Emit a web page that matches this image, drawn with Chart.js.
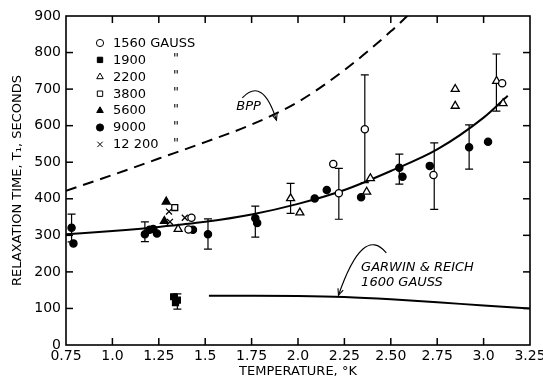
<!DOCTYPE html>
<html>
<head>
<meta charset="utf-8">
<script src="https://cdn.jsdelivr.net/npm/chart.js@4.4.1/dist/chart.umd.min.js"></script>
<style>
  html, body { margin: 0; padding: 0; background: #fff; }
</style>
</head>
<body>
<canvas id="c" width="543" height="379"></canvas>
<script>
/* ── data ───────────────────────────────────────────── */
const xTicks      = [0.75, 1.0, 1.25, 1.5, 1.75, 2.0, 2.25, 2.5, 2.75, 3.0, 3.25];
const xTickLabels = ["0.75", "1.0", "1.25", "1.5", "1.75", "2.0", "2.25", "2.50", "2.75", "3.0", "3.25"];
const yTicks      = [0, 100, 200, 300, 400, 500, 600, 700, 800, 900];

const fieldLabels = ["1560 GAUSS", "1900", "2200", "3800", "5600", "9000", "12 200"];

const g1560  = [[1.41, 316], [1.426, 348], [2.19, 495], [2.22, 415], [2.36, 590], [2.73, 465], [3.10, 716]];
const g1900  = [[1.33, 132], [1.34, 116], [1.35, 123]];
const g2200  = [[1.354, 317], [1.96, 401], [2.01, 362], [2.37, 419], [2.39, 456], [2.847, 700], [2.847, 654], [3.07, 722], [3.105, 661]];
const g3800  = [[1.336, 376]];
const g5600  = [[1.29, 392], [1.28, 339]];
const g9000  = [[0.78, 321], [0.79, 278], [1.175, 303], [1.20, 315], [1.22, 317], [1.24, 305], [1.434, 315], [1.515, 303],
                [1.77, 347], [1.78, 334], [2.09, 401], [2.155, 424], [2.34, 404], [2.546, 485], [2.563, 460],
                [2.71, 490], [2.922, 541], [3.024, 556]];
const g12200 = [[1.305, 365], [1.31, 337], [1.39, 348]];

// [T, low, high]
const errBars = [[0.78, 282, 358], [1.175, 283, 337], [1.35, 98, 140], [1.515, 262, 345], [1.77, 295, 380],
                 [1.96, 360, 442], [2.22, 344, 483], [2.36, 444, 739], [2.546, 440, 522], [2.734, 371, 553],
                 [2.922, 481, 602], [3.069, 640, 796]];

const fitT  = [0.75, 1.0, 1.25, 1.5, 1.75, 2.0, 2.25, 2.5, 2.75, 3.0, 3.13];
const fitT1 = [303, 312, 323, 337, 357, 386, 424, 476, 535, 622, 682];

const bppT  = [0.75, 1.0, 1.25, 1.5, 1.75, 2.0, 2.25, 2.5, 2.65];
const bppT1 = [422, 465, 510, 555, 603, 665, 752, 858, 930];

const garT  = [1.52, 1.75, 2.0, 2.25, 2.5, 2.75, 3.0, 3.25];
const garT1 = [135, 135, 134, 131, 125, 117, 108, 100];

/* ── helpers ─────────────────────────────────────────── */
const FONT = "'DejaVu Sans', sans-serif";
const pts  = arr => arr.map(([x, y]) => ({ x, y }));
const zip  = (xs, ys) => xs.map((x, i) => ({ x, y: ys[i] }));

function marker(label, data, style, filled, radius) {
  return {
    label, data: pts(data),
    pointStyle: style,
    pointRadius: radius,
    pointBackgroundColor: filled ? "#000" : "#fff",
    pointBorderColor: "#000",
    pointBorderWidth: 1.3,
    showLine: false,
    isMarker: true,
  };
}

function curve(data, dash) {
  return {
    data, showLine: true, pointRadius: 0, borderColor: "#000", borderWidth: 2,
    borderDash: dash || [], cubicInterpolationMode: "monotone", fill: false,
  };
}

/* ── frame + inward tick marks ───────────────────────── */
const framePlugin = {
  id: "frame",
  afterDatasetsDraw(chart) {
    const { ctx, chartArea: a } = chart;
    const sx = chart.scales.x, sy = chart.scales.y;
    ctx.save();
    ctx.fillStyle = "#000";
    const tl = 7, w = 1.5;
    for (let i = 1; i < xTicks.length - 1; i++) {
      const px = sx.getPixelForValue(xTicks[i]);
      ctx.fillRect(px - w / 2, a.bottom - tl, w, tl);
      ctx.fillRect(px - w / 2, a.top, w, tl);
    }
    for (let i = 1; i < yTicks.length - 1; i++) {
      const py = sy.getPixelForValue(yTicks[i]);
      ctx.fillRect(a.left, py - w / 2, tl, w);
      ctx.fillRect(a.right - tl, py - w / 2, tl, w);
    }
    ctx.strokeStyle = "#000";
    ctx.lineWidth = 1.6;
    ctx.strokeRect(a.left, a.top, a.right - a.left, a.bottom - a.top);
    ctx.restore();
  }
};

/* ── error bars, legend, notes ───────────────────────── */
const figurePlugin = {
  id: "figure",
  beforeDatasetsDraw(chart) {
    const { ctx, scales: { x, y } } = chart;
    ctx.save();
    ctx.strokeStyle = "#000";
    ctx.lineWidth = 1.2;
    errBars.forEach(([t, lo, hi]) => {
      const px = x.getPixelForValue(t), p1 = y.getPixelForValue(lo), p2 = y.getPixelForValue(hi);
      ctx.beginPath();
      ctx.moveTo(px, p1); ctx.lineTo(px, p2);
      ctx.moveTo(px - 4, p1); ctx.lineTo(px + 4, p1);
      ctx.moveTo(px - 4, p2); ctx.lineTo(px + 4, p2);
      ctx.stroke();
    });
    ctx.restore();
  },
  afterDraw(chart) {
    const { ctx, chartArea: a, scales: { x, y } } = chart;
    ctx.save();
    ctx.setLineDash([]);

    // legend inside plot
    const lx = a.left + 34, ly = a.top + 27, step = 16.9;
    ctx.font = "13px " + FONT;
    ctx.textBaseline = "middle";
    chart.data.datasets.filter(d => d.isMarker).forEach((d, i) => {
      const yy = ly + i * step;
      ctx.fillStyle = d.pointBackgroundColor;
      ctx.strokeStyle = d.pointBorderColor;
      Chart.helpers.drawPoint(ctx, {
        pointStyle: d.pointStyle, radius: Math.min(d.pointRadius, 3.8), rotation: 0, borderWidth: 1.3,
      }, lx, yy);
      ctx.fillStyle = "#000";
      ctx.textAlign = "left";
      ctx.fillText(d.label, lx + 13, yy + 0.5);
      if (i > 0) ctx.fillText("\"", lx + 73, yy - 1);
    });

    // annotations
    const P = (t, v) => [x.getPixelForValue(t), y.getPixelForValue(v)];
    ctx.fillStyle = "#000";
    ctx.strokeStyle = "#000";
    ctx.font = "italic 13px " + FONT;
    ctx.textAlign = "center";
    ctx.fillText("BPP", ...P(1.734, 651));
    ctx.textAlign = "left";
    ctx.fillText("GARWIN & REICH", ...P(2.34, 211));
    ctx.fillText("1600 GAUSS", ...P(2.34, 170));

    function arrow(s, c, e) {
      const [sx, sy] = P(...s), [cx, cy] = P(...c), [ex, ey] = P(...e);
      ctx.lineWidth = 1.1;
      ctx.beginPath();
      ctx.moveTo(sx, sy);
      ctx.quadraticCurveTo(cx, cy, ex, ey);
      ctx.stroke();
      const ang = Math.atan2(ey - cy, ex - cx);
      ctx.beginPath();
      ctx.moveTo(ex - 7 * Math.cos(ang - 0.4), ey - 7 * Math.sin(ang - 0.4));
      ctx.lineTo(ex, ey);
      ctx.lineTo(ex - 7 * Math.cos(ang + 0.4), ey - 7 * Math.sin(ang + 0.4));
      ctx.stroke();
    }
    arrow([1.70, 676], [1.81, 735], [1.884, 615]);
    arrow([2.476, 252], [2.35, 330], [2.218, 136]);
    ctx.restore();
  }
};

/* ── chart ───────────────────────────────────────────── */
new Chart(document.getElementById("c"), {
  type: "scatter",
  data: {
    datasets: [
      marker(fieldLabels[0], g1560, "circle", false, 3.6),
      marker(fieldLabels[1], g1900, "rect", true, 4.2),
      marker(fieldLabels[2], g2200, "triangle", false, 4.6),
      marker(fieldLabels[3], g3800, "rect", false, 4.2),
      marker(fieldLabels[4], g5600, "triangle", true, 4.6),
      marker(fieldLabels[5], g9000, "circle", true, 3.6),
      marker(fieldLabels[6], g12200, "crossRot", false, 4.2),
      curve(zip(fitT, fitT1)),
      curve(zip(bppT, bppT1), [11, 7]),
      curve(zip(garT, garT1)),
    ]
  },
  options: {
    responsive: false,
    animation: false,
    layout: { padding: { left: 0, right: 13, top: 16, bottom: 0 } },
    plugins: { legend: { display: false }, tooltip: { enabled: false } },
    scales: {
      x: {
        type: "linear", min: 0.75, max: 3.25,
        afterBuildTicks: s => { s.ticks = xTicks.map(v => ({ value: v })); },
        afterFit: s => { s.height = 34; s.paddingLeft = 0; s.paddingRight = 0; },
        grid: { display: false, drawTicks: false },
        border: { display: false },
        ticks: {
          color: "#000", padding: 3, maxRotation: 0, autoSkip: false,
          font: { family: FONT, size: 14 },
          callback: v => xTickLabels[xTicks.indexOf(v)] ?? ""
        },
        title: {
          display: true, text: "TEMPERATURE, °K", color: "#000",
          font: { family: FONT, size: 13 }, padding: { top: 0, bottom: 0 }
        }
      },
      y: {
        min: 0, max: 900,
        afterBuildTicks: s => { s.ticks = yTicks.map(v => ({ value: v })); },
        afterFit: s => { s.width = 66; s.paddingTop = 0; s.paddingBottom = 0; },
        grid: { display: false, drawTicks: false },
        border: { display: false },
        ticks: {
          color: "#000", padding: 5, autoSkip: false,
          font: { family: FONT, size: 14 }
        },
        title: {
          display: true, text: "RELAXATION TIME, T₁, SECONDS", color: "#000",
          font: { family: FONT, size: 13 }, padding: { top: 10, bottom: 0 }
        }
      }
    }
  },
  plugins: [framePlugin, figurePlugin]
});
</script>
</body>
</html>
